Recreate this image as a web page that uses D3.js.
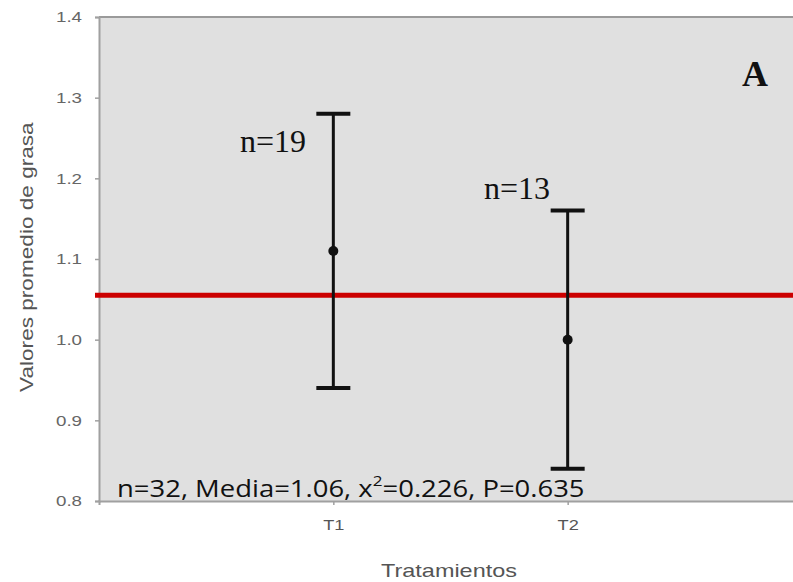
<!DOCTYPE html>
<html>
<head>
<meta charset="utf-8">
<script src="https://cdn.jsdelivr.net/npm/d3@7"></script>
<style>
html,body{margin:0;padding:0;background:#fff;}
svg{display:block;}
</style>
</head>
<body>
<svg id="chart" width="793" height="582"></svg>
<script>
const categories = ["T1", "T2"];
const means = [1.11, 1.00];
const upper = [1.28, 1.16];
const lower = [0.94, 0.84];
const nLabels = ["n=19", "n=13"];
const yTicks = [0.8, 0.9, 1.0, 1.1, 1.2, 1.3, 1.4];
const overallMean = 1.055;

const svg = d3.select("#chart");
const mLeft = 99, mTop = 17, mBottom = 501, mRight = 802;

const x = d3.scalePoint().domain(categories).range([mLeft, mRight]).padding(1);
const y = d3.scaleLinear().domain([0.8, 1.4]).range([mBottom, mTop]);

// the source image is horizontally stretched; scale text along its own x axis
function stretch(sel, s, origin) {
  const node = sel.node();
  const bb = node.getBBox();
  const ox = origin === "left" ? bb.x : origin === "right" ? bb.x + bb.width : bb.x + bb.width / 2;
  sel.attr("transform", (sel.attr("transform") || "") + ` translate(${ox},0) scale(${s},1) translate(${-ox},0)`);
}
function fitWidth(sel, target, origin) {
  const w = sel.node().getBBox().width;
  stretch(sel, target / w, origin);
}

// plot background
svg.append("rect").attr("x", mLeft).attr("y", mTop)
  .attr("width", 793 - mLeft).attr("height", mBottom - mTop)
  .attr("fill", "#e0e0e0");
// top border
svg.append("line").attr("x1", mLeft).attr("x2", 793).attr("y1", mTop).attr("y2", mTop)
  .attr("stroke", "#9a9a9a").attr("stroke-width", 2);

// y axis
const yAxis = d3.axisLeft(y).tickValues(yTicks).tickFormat(d3.format(".1f")).tickSize(4).tickPadding(13);
const gy = svg.append("g").attr("transform", `translate(${mLeft},0)`).call(yAxis);
gy.select(".domain").attr("stroke", "#a0a0a0").attr("stroke-width", 2);
gy.selectAll(".tick line").attr("stroke", "#a0a0a0").attr("stroke-width", 1.5);
gy.selectAll(".tick text").attr("font-family", "Liberation Sans, Arial, sans-serif")
  .attr("font-size", 15).attr("fill", "#666")
  .each(function () { stretch(d3.select(this), 1.25, "right"); });

// x axis
const xAxis = d3.axisBottom(x).tickSize(4).tickPadding(15);
const gx = svg.append("g").attr("transform", `translate(0,${mBottom})`).call(xAxis);
gx.select(".domain").attr("stroke", "#a0a0a0").attr("stroke-width", 2);
gx.selectAll(".tick line").attr("stroke", "#a0a0a0").attr("stroke-width", 1.5);
gx.selectAll(".tick text").attr("font-family", "Liberation Sans, Arial, sans-serif")
  .attr("font-size", 14).attr("fill", "#555")
  .each(function () { stretch(d3.select(this), 1.3, "center"); });

// axis titles
const xt = svg.append("text").attr("x", 449).attr("y", 577).attr("text-anchor", "middle")
  .attr("font-family", "Liberation Sans, Arial, sans-serif").attr("font-size", 19).attr("fill", "#555")
  .text("Tratamientos");
fitWidth(xt, 136, "center");
const yt = svg.append("text").attr("transform", "translate(33,257) rotate(-90)").attr("text-anchor", "middle")
  .attr("font-family", "Liberation Sans, Arial, sans-serif").attr("font-size", 18).attr("fill", "#555")
  .text("Valores promedio de grasa");
fitWidth(yt, 271, "center");

// red mean line
svg.append("line").attr("x1", 95).attr("x2", 793)
  .attr("y1", y(overallMean)).attr("y2", y(overallMean))
  .attr("stroke", "#cc0000").attr("stroke-width", 5);

// error bars
const data = categories.map((c, i) => ({c, m: means[i], u: upper[i], l: lower[i], n: nLabels[i]}));
const g = svg.append("g");
data.forEach(d => {
  const cx = x(d.c);
  g.append("line").attr("x1", cx).attr("x2", cx).attr("y1", y(d.u)).attr("y2", y(d.l))
    .attr("stroke", "#111").attr("stroke-width", 3);
  [d.u, d.l].forEach(v => {
    g.append("line").attr("x1", cx - 17).attr("x2", cx + 17).attr("y1", y(v)).attr("y2", y(v))
      .attr("stroke", "#111").attr("stroke-width", 4);
  });
  g.append("circle").attr("cx", cx).attr("cy", y(d.m)).attr("r", 5).attr("fill", "#111");
});

// n labels
svg.append("text").attr("x", 306).attr("y", 152).attr("text-anchor", "end")
  .attr("font-family", "Liberation Serif, Times New Roman, serif").attr("font-size", 32).attr("fill", "#111")
  .text(nLabels[0]);
svg.append("text").attr("x", 550).attr("y", 199).attr("text-anchor", "end")
  .attr("font-family", "Liberation Serif, Times New Roman, serif").attr("font-size", 32).attr("fill", "#111")
  .text(nLabels[1]);

// panel letter
svg.append("text").attr("x", 742).attr("y", 86)
  .attr("font-family", "Liberation Serif, Times New Roman, serif").attr("font-size", 36)
  .attr("font-weight", "bold").attr("fill", "#111").text("A");

// stats text
const st = svg.append("text").attr("x", 117).attr("y", 497)
  .attr("font-family", "Open Sans, sans-serif").attr("font-size", 24).attr("fill", "#111");
st.append("tspan").text("n=32, Media=1.06, x");
st.append("tspan").attr("font-size", 15).attr("dy", -11).text("2");
st.append("tspan").attr("dy", 11).text("=0.226, P=0.635");
fitWidth(st, 468, "left");
</script>
</body>
</html>
